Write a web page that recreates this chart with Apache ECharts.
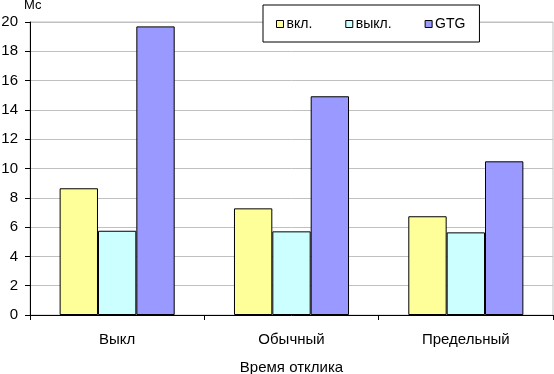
<!DOCTYPE html>
<html>
<head>
<meta charset="utf-8">
<script src="https://cdn.jsdelivr.net/npm/echarts@6/dist/echarts.min.js"></script>
<style>
html,body{margin:0;padding:0;background:#fff;}
#c{width:554px;height:374px;}
</style>
</head>
<body>
<div id="c"></div>
<script>
var categories = ['Выкл', 'Обычный', 'Предельный'];
var seriesNames = ['вкл.', 'выкл.', 'GTG'];
var valuesOn = [8.65, 7.28, 6.74];
var valuesOff = [5.75, 5.71, 5.64];
var valuesGTG = [19.7, 14.93, 10.49];
var yTicks = {min: 0, max: 20, interval: 2};
var xAxisTitle = 'Время отклика';
var yAxisTitle = 'Мс';
var colors = ['#FFFF99', '#CCFFFF', '#9999FF'];

var chart = echarts.init(document.getElementById('c'), null, {renderer: 'canvas'});
var font = '"Liberation Sans", Arial, sans-serif';
var data = [valuesOn, valuesOff, valuesGTG];
chart.setOption({
  animation: false,
  backgroundColor: '#ffffff',
  textStyle: {fontFamily: font},
  grid: {left: 30, right: 1, top: 22, bottom: 59, show: true, borderColor: '#c0c0c0', borderWidth: 1, containLabel: false, outerBoundsMode: 'none'},
  legend: {
    left: 263, top: 5,
    orient: 'horizontal',
    backgroundColor: '#ffffff',
    borderColor: '#000000', borderWidth: 1,
    padding: [12, 14, 11, 13],
    itemWidth: 7, itemHeight: 7, itemGap: 33,
    icon: 'rect',
    selectedMode: false,
    textStyle: {fontFamily: font, fontSize: 14, color: '#000', padding: [0, 0, 0, -2]},
    itemStyle: {borderColor: '#000', borderWidth: 1},
    data: seriesNames
  },
  xAxis: {
    type: 'category',
    data: categories,
    name: xAxisTitle,
    nameLocation: 'middle',
    nameGap: 45,
    nameTextStyle: {fontFamily: font, fontSize: 15, color: '#000'},
    axisLine: {lineStyle: {color: '#000', width: 1}},
    axisTick: {show: true, length: 5, lineStyle: {color: '#000'}},
    axisLabel: {fontFamily: font, fontSize: 15, color: '#000', margin: 17},
    splitLine: {show: false}
  },
  yAxis: {
    type: 'value',
    min: yTicks.min, max: yTicks.max, interval: yTicks.interval,
    name: yAxisTitle,
    nameLocation: 'end',
    nameGap: 10,
    nameTextStyle: {fontFamily: font, fontSize: 13, color: '#000', align: 'left', padding: [0, 0, 0, -6]},
    axisLine: {show: true, lineStyle: {color: '#000', width: 1}},
    axisTick: {show: true, length: 5, lineStyle: {color: '#000'}},
    axisLabel: {fontFamily: font, fontSize: 15, color: '#000', margin: 12},
    splitLine: {show: true, lineStyle: {color: '#c0c0c0', width: 1}}
  },
  series: seriesNames.map(function (n, i) {
    return {
      name: n,
      type: 'bar',
      data: data[i],
      barGap: '0%',
      barCategoryGap: '34%',
      itemStyle: {color: colors[i], borderColor: '#000', borderWidth: 1}
    };
  })
});
</script>
</body>
</html>
